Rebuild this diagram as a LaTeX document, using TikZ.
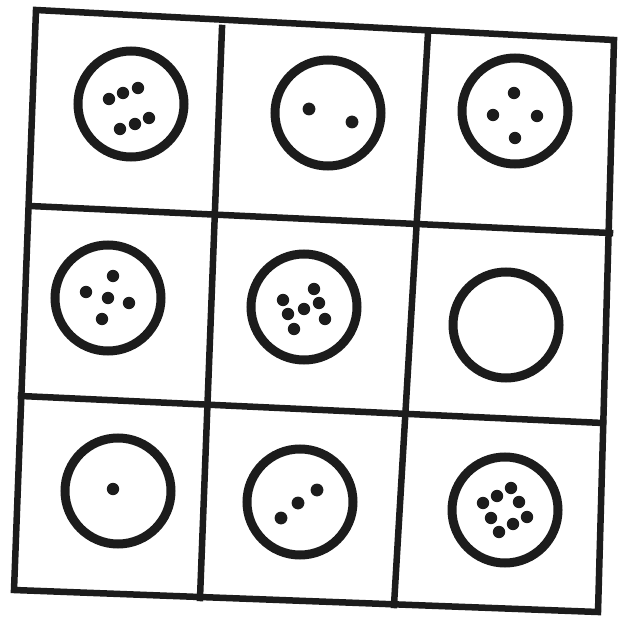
\documentclass[tikz,border=0pt]{standalone}
\usepackage{tikz}
\definecolor{ink}{RGB}{28,28,28}
\begin{document}
\begin{tikzpicture}[x=1pt,y=-1pt,
  gridline/.style={draw=ink,line width=6.5pt,line cap=rect},
  ring/.style={circle,draw=ink,line width=9pt,minimum size=106pt,inner sep=0pt},
  pip/.style={fill=ink}]
\useasboundingbox (0,0) rectangle (621,620);
\fill[white] (0,0) rectangle (621,620);
% grid corners
\coordinate (tl) at (36,10);
\coordinate (tr) at (614,40);
\coordinate (br) at (598,612);
\coordinate (bl) at (14,590);
\coordinate (h1l) at (30,206);
\coordinate (h1r) at (610,233);
\coordinate (h2l) at (21,396);
\coordinate (h2r) at (603,423);
\coordinate (v1t) at (222,28);
\coordinate (v1b) at (200,598);
\coordinate (v2t) at (428,33);
\coordinate (v2b) at (394,605);
% outer frame
\draw[gridline,line join=miter] (tl) -- (tr) -- (br) -- (bl) -- cycle;
% inner lines
\draw[gridline] (h1l) -- (h1r);
\draw[gridline] (h2l) -- (h2r);
\draw[gridline] (v1t) -- (v1b);
\draw[gridline] (v2t) -- (v2b);
% rings
\node[ring] (r11) at (131,104) {};
\node[ring] (r12) at (328,113) {};
\node[ring] (r13) at (515,111) {};
\node[ring] (r21) at (108,298) {};
\node[ring] (r22) at (304,307) {};
\node[ring] (r23) at (506,325) {};
\node[ring] (r31) at (118,491) {};
\node[ring] (r32) at (300,502) {};
\node[ring] (r33) at (505,510) {};
% pips
\foreach \p in {(109,99),(123,93),(138,88),(120,129),(135,124),(149,118)}
  \fill[pip] \p circle (6.2);
\foreach \p in {(309,109),(352,122)}
  \fill[pip] \p circle (6.4);
\foreach \p in {(514,93),(493,115),(537,116),(515,138)}
  \fill[pip] \p circle (6.2);
\foreach \p in {(113,276),(86,292),(108,298),(129,303),(102,319)}
  \fill[pip] \p circle (6.2);
\foreach \p in {(314,289),(283,300),(319,303),(304,309),(288,314),(325,319),(294,329)}
  \fill[pip] \p circle (6.2);
\foreach \p in {(113,489)}
  \fill[pip] \p circle (6.2);
\foreach \p in {(317,490),(298,503),(281,518)}
  \fill[pip] \p circle (6.4);
\foreach \p in {(511,488),(497,496),(519,502),(483,503),(491,518),(527,517),(513,524),(499,532)}
  \fill[pip] \p circle (6.2);
\end{tikzpicture}
\end{document}
